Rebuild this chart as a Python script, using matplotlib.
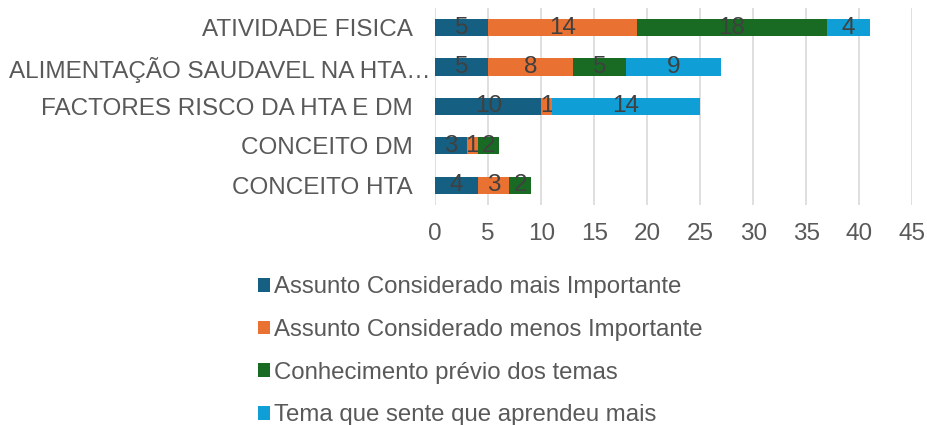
import numpy as np
import matplotlib.pyplot as plt
import matplotlib.transforms as mtransforms

plt.rcParams['font.family'] = ['Liberation Sans', 'DejaVu Sans']

categorias = ['CONCEITO HTA', 'CONCEITO DM', 'FACTORES RISCO DA HTA E DM',
              'ALIMENTAÇÃO SAUDAVEL NA HTA…', 'ATIVIDADE FISICA']
mais_importante = [4, 3, 10, 5, 5]
menos_importante = [3, 1, 1, 8, 14]
conhecimento = [2, 2, 0, 5, 18]
aprendeu_mais = [0, 0, 14, 9, 4]

series = [
    ('Assunto Considerado mais Importante', mais_importante, '#156082'),
    ('Assunto Considerado menos Importante', menos_importante, '#E97132'),
    ('Conhecimento prévio dos temas', conhecimento, '#196B24'),
    ('Tema que sente que aprendeu mais', aprendeu_mais, '#0F9ED5'),
]

cinza = '#595959'

fig = plt.figure(figsize=(9.28, 4.25), dpi=100)
ax = fig.add_axes([0.469, 0.518, 0.514, 0.463])

y = np.arange(len(categorias))
base = np.zeros(len(categorias))
for nome, vals, cor in series:
    vals = np.array(vals)
    bars = ax.barh(y, vals, left=base, height=0.44, color=cor, label=nome, zorder=3)
    labels = [str(v) if v > 0 else '' for v in vals]
    ax.bar_label(bars, labels=labels, label_type='center', color='#404040', fontsize=17.5)
    base += vals

ax.set_xlim(0, 45)
ax.set_ylim(-0.5, len(categorias) - 0.5)
ax.set_xticks(np.arange(0, 46, 5))
ax.set_yticks(y)
ax.set_yticklabels(categorias)
ax.tick_params(axis='both', length=0, labelsize=17.5, colors=cinza)
ax.tick_params(axis='x', pad=13)
ax.tick_params(axis='y', pad=16)
ax.grid(axis='x', color='#D9D9D9', linewidth=1.2, zorder=0)
for s in ax.spines.values():
    s.set_visible(False)

# o rótulo longo fica encostado às barras, como no original
lbl = ax.get_yticklabels()[3]
lbl.set_transform(lbl.get_transform() + mtransforms.ScaledTranslation(0.17, 0, fig.dpi_scale_trans))

fig.legend(loc='upper left', bbox_to_anchor=(0.265, 0.378), frameon=False,
           fontsize=17.3, labelcolor=cinza, handlelength=0.5, handleheight=0.5,
           handletextpad=0.15, labelspacing=0.86, borderpad=0)

fig.savefig('out.png', dpi=100)
